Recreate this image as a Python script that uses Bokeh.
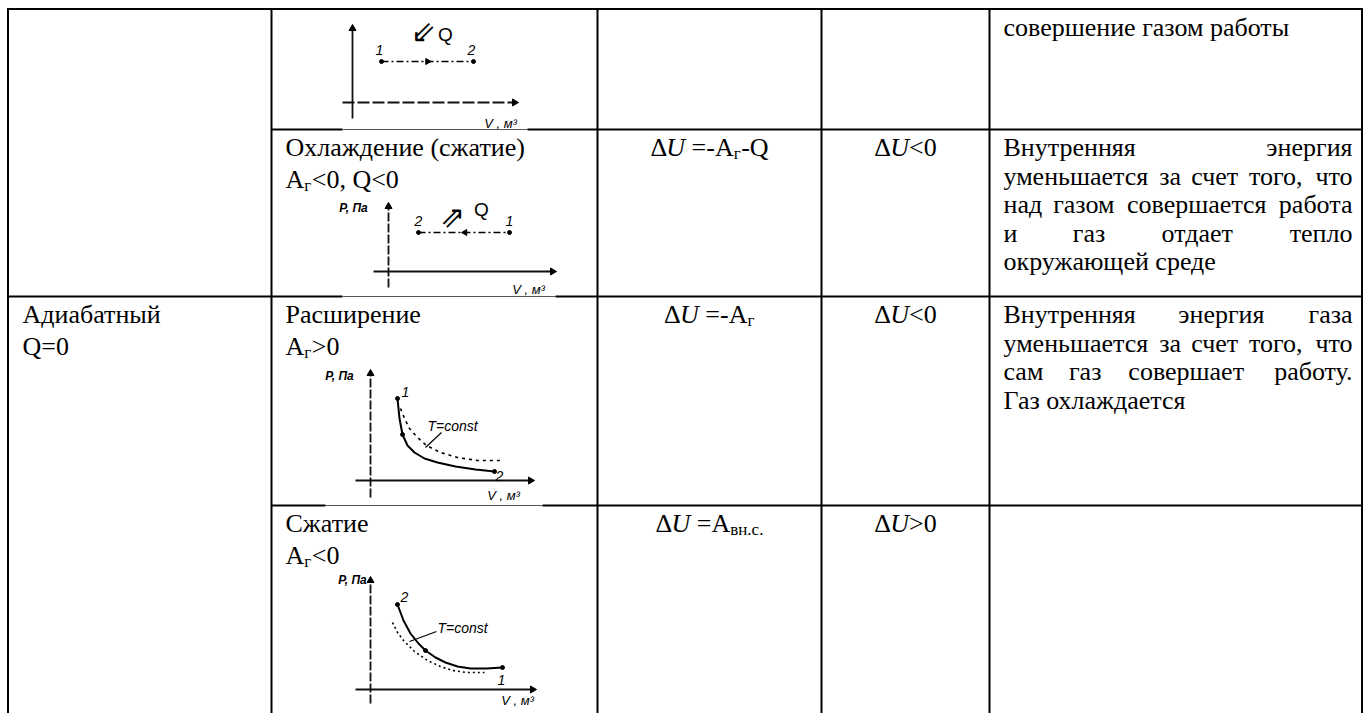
import math
from bokeh.plotting import figure
from bokeh.models import Range1d, ColumnDataSource
from bokeh.core.properties import value
from bokeh.embed import file_html
from bokeh.resources import INLINE

# ---------------- table content ----------------
col1_row34 = ["Адиабатный", "Q=0"]
col2_row2 = ["Охлаждение (сжатие)", "A_{г}<0, Q<0"]
col2_row3 = ["Расширение", "A_{г}>0"]
col2_row4 = ["Сжатие", "A_{г}<0"]
col3_formulas = ["Δ*U* =-A_{г}-Q", "Δ*U* =-A_{г}", "Δ*U* =A_{вн.с.}"]
col4_signs = ["Δ*U*<0", "Δ*U*<0", "Δ*U*>0"]
col5_row1 = ["совершение газом работы"]
col5_row1_just = [False]
col5_row2 = ["Внутренняя энергия", "уменьшается за счет того, что",
             "над газом совершается работа", "и газ отдает тепло",
             "окружающей среде"]
col5_row2_just = [True, True, True, True, False]
col5_row3 = ["Внутренняя энергия газа", "уменьшается за счет того, что",
             "сам газ совершает работу.", "Газ охлаждается"]
col5_row3_just = [True, True, True, False]

# ---------------- diagram content (small P-V sketches) ----------------
# A: isobaric expansion (top, cut)
isoA_V = [381, 473]
isoA_P = [61, 61]
# B: isobaric compression
isoB_V = [418, 509]
isoB_P = [232, 232]
# C: adiabatic expansion
adC_V = [397, 399, 402, 407, 414, 424, 437, 455, 475, 494]
adC_P = [398, 418, 434, 445, 452, 458, 462, 466, 469, 471]
isoC_V = [400, 404, 409, 416, 426, 440, 457, 477, 500]
isoC_P = [408, 418, 428, 436, 445, 452, 457, 460, 460]
# D: adiabatic compression
adD_V = [397, 403, 410, 418, 425, 435, 445, 457, 470, 486, 502]
adD_P = [604, 620, 633, 643, 650, 657, 662, 666, 668, 668, 667]
isoD_V = [392, 397, 403, 414, 427, 440, 452, 466, 484]
isoD_P = [622, 632, 640, 651, 660, 666, 670, 672, 672]

# ---------------- layout ----------------
W, H = 1370, 713
FONT = "Liberation Serif"
SANS = "Liberation Sans"
FS = 26
SUB = 17
INK = "#000000"
NB = "\u00a0"

col_x = [7.5, 271, 597, 821, 989, 1361.5]
row_y = [8.5, 129, 296, 505]

p = figure(width=W, height=H, x_range=Range1d(0, W), y_range=Range1d(H, 0),
           output_backend="svg", toolbar_location=None, x_axis_type=None, y_axis_type=None,
           min_border=0)
p.grid.visible = False
p.outline_line_color = None
p.background_fill_color = "white"
p.border_fill_color = "white"

# ---- text machinery ----
CW = {' ': 0.25, NB: 0.25, ',': 0.25, '.': 0.25, '-': 0.333, '=': 0.564, '<': 0.564, '>': 0.564,
      '(': 0.333, ')': 0.333, '0': 0.5, '1': 0.5, '2': 0.5,
      'A': 0.722, 'Q': 0.722, 'U': 0.722, 'Δ': 0.612,
      'А': 0.722, 'В': 0.667, 'Г': 0.578, 'О': 0.722, 'Р': 0.556, 'С': 0.667,
      'а': 0.444, 'б': 0.5, 'в': 0.472, 'г': 0.44, 'д': 0.5, 'е': 0.444, 'ж': 0.706,
      'з': 0.4, 'и': 0.535, 'й': 0.535, 'к': 0.48, 'л': 0.5, 'м': 0.63, 'н': 0.535,
      'о': 0.5, 'п': 0.535, 'р': 0.5, 'с': 0.444, 'т': 0.45, 'у': 0.5, 'ф': 0.65,
      'х': 0.5, 'ц': 0.535, 'ч': 0.5, 'ш': 0.78, 'щ': 0.78, 'ы': 0.67, 'ь': 0.45,
      'э': 0.44, 'ю': 0.73, 'я': 0.48}


def tw(s, size):
    return sum(CW.get(c, 0.5) for c in s) * size


groups = {}


def emit(x, y, text, size=FS, style="normal", font=FONT, align="left", color=INK):
    key = (font, size, style, align, color)
    g = groups.setdefault(key, {"x": [], "y": [], "t": []})
    g["x"].append(x)
    g["y"].append(y)
    g["t"].append(text)


def parse(s):
    s = s.replace(" ", NB)
    segs, buf, italic, i = [], "", False, 0
    while i < len(s):
        if s.startswith("_{", i):
            if buf:
                segs.append((buf, "i" if italic else "n"))
                buf = ""
            j = s.index("}", i)
            segs.append((s[i + 2:j], "s"))
            i = j + 1
        elif s[i] == "*":
            if buf:
                segs.append((buf, "i" if italic else "n"))
                buf = ""
            italic = not italic
            i += 1
        else:
            buf += s[i]
            i += 1
    if buf:
        segs.append((buf, "i" if italic else "n"))
    return segs


def seg_width(segs):
    return sum(tw(t, SUB if k == "s" else FS) for t, k in segs)


def emit_rich(x, y, s, center=False):
    segs = parse(s)
    if center:
        x = x - seg_width(segs) / 2
    for t, k in segs:
        if k == "s":
            emit(x, y + 6, t, size=SUB)
            x += tw(t, SUB)
        else:
            emit(x, y, t, style="italic" if k == "i" else "normal")
            x += tw(t, FS)


def emit_par(lines, just, left, right, y, step):
    for k, (line, j) in enumerate(zip(lines, just)):
        yy = y + k * step
        words = line.split(" ")
        if j and len(words) > 1:
            ws = [tw(w, FS) for w in words]
            gap = (right - left - sum(ws)) / (len(words) - 1)
            xx = left
            for n, w in enumerate(words):
                if n == len(words) - 1:
                    emit(right, yy, w, align="right")
                else:
                    emit(xx, yy, w)
                xx += ws[n] + gap
        else:
            emit(left, yy, line)


# ---- grid lines ----
def hline(x1, x2, y, w=2, c=INK):
    p.line([x1, x2], [y, y], line_width=w, line_color=c)


for cx in col_x:
    p.line([cx, cx], [row_y[0] - 1, H], line_width=2, line_color=INK)
hline(col_x[0] - 1, col_x[-1] + 1, row_y[0])
hline(271, 342, row_y[1]); hline(342, 527, row_y[1], 1, "#555"); hline(527, col_x[-1], row_y[1])
hline(col_x[0], 342, row_y[2]); hline(342, 555, row_y[2], 1, "#555"); hline(555, col_x[-1], row_y[2])
hline(271, 325, row_y[3]); hline(325, 542, row_y[3], 1, "#555"); hline(542, col_x[-1], row_y[3])

# ---- cell texts ----
LINE = 32
PAR = 28.5
first = [r + 18 for r in row_y]
L1, L2, L5, R5 = 22, 285, 1003, 1352
C3 = (col_x[2] + col_x[3]) / 2
C4 = (col_x[3] + col_x[4]) / 2

for k, s in enumerate(col1_row34):
    emit_rich(L1, first[2] + k * LINE, s)
for rows, r in ((col2_row2, 1), (col2_row3, 2), (col2_row4, 3)):
    for k, s in enumerate(rows):
        emit_rich(L2, first[r] + k * LINE, s)
for k, s in enumerate(col3_formulas):
    emit_rich(C3, first[k + 1], s, center=True)
for k, s in enumerate(col4_signs):
    emit_rich(C4, first[k + 1], s, center=True)
emit_par(col5_row1, col5_row1_just, L5, R5, first[0], PAR)
emit_par(col5_row2, col5_row2_just, L5, R5, first[1], PAR)
emit_par(col5_row3, col5_row3_just, L5, R5, first[2], PAR)


# ---- diagrams ----
def arrow_head(x, y, ang, size=7):
    p.scatter([x], [y], marker="triangle", size=size, angle=ang, color=INK)


def axes(x0, y_top, y_bot, y0, x_left, x_right, ydash="solid", xdash="solid"):
    p.line([x0, x0], [y_bot, y_top + 3], line_width=1.8, line_color="#111", line_dash=ydash)
    arrow_head(x0, y_top + 3, 0)
    p.line([x_left, x_right - 3], [y0, y0], line_width=1.8, line_color="#111", line_dash=xdash)
    arrow_head(x_right - 3, y0, -math.pi / 2)


def lab(x, y, t, size=13, style="italic", font=SANS, align="center"):
    emit(x, y, t, size=size, style=style, font=font, align=align)


# A
axes(352, 25, 118, 102, 342, 517, xdash="12 3")
p.line(isoA_V, isoA_P, line_width=1.6, line_color=INK, line_dash="7 3 2 3")
p.scatter(isoA_V, isoA_P, size=4, color=INK)
arrow_head((isoA_V[0] + isoA_V[1]) / 2, isoA_P[0], -math.pi / 2, 6)
lab(isoA_V[0] - 2, 49, "1", 14)
lab(isoA_V[1] - 2, 49, "2", 14)
emit(423, 31, "⇙", size=30, font="DejaVu Sans", align="center")
emit(445, 34, "Q", size=19, font=SANS, align="center")
lab(500, 123, "V , м³", 13)

# B
axes(388, 203, 287, 271, 373, 555, ydash="9 2")
lab(353, 207, "P, Па", 12, "bold italic")
p.line(isoB_V, isoB_P, line_width=1.6, line_color=INK, line_dash="7 3 2 3")
p.scatter(isoB_V, isoB_P, size=4, color=INK)
arrow_head((isoB_V[0] + isoB_V[1]) / 2 + 1, isoB_P[0], math.pi / 2, 6)
lab(isoB_V[0], 220, "2", 14)
lab(isoB_V[1], 220, "1", 14)
emit(452, 216, "⇗", size=30, font="DejaVu Sans", align="center")
emit(481, 209, "Q", size=19, font=SANS, align="center")
lab(528, 289, "V , м³", 13)

# C
axes(370, 370, 497, 480, 355, 533, ydash="9 2")
lab(339, 375, "P, Па", 12, "bold italic")
p.line(adC_V, adC_P, line_width=2, line_color=INK)
p.scatter([adC_V[0], adC_V[2], adC_V[-1]], [adC_P[0], adC_P[2], adC_P[-1]], size=4, color=INK)
p.line(isoC_V, isoC_P, line_width=1.6, line_color=INK, line_dash="3 4")
lab(405, 391, "1", 14)
lab(499, 475, "2", 14)
lab(452, 425, "T=const", 14)
p.line([441, 425], [432, 447], line_width=1.2, line_color=INK)
lab(503, 495, "V , м³", 13)

# D
axes(370, 577, 703, 689, 355, 535, ydash="9 2")
lab(352, 579, "P, Па", 12, "bold italic")
p.line(adD_V, adD_P, line_width=2, line_color=INK)
p.scatter([adD_V[0], adD_V[4], adD_V[-1]], [adD_P[0], adD_P[4], adD_P[-1]], size=4, color=INK)
p.line(isoD_V, isoD_P, line_width=1.6, line_color=INK, line_dash="2 3")
lab(404, 596, "2", 14)
lab(501, 679, "1", 14)
lab(462, 627, "T=const", 14)
p.line([436, 409], [631, 641], line_width=1.2, line_color=INK)
lab(517, 700, "V , м³", 13)

# ---- render texts ----
for (font, size, style, align, color), g in groups.items():
    src = ColumnDataSource(dict(x=g["x"], y=g["y"], t=g["t"]))
    p.text(x="x", y="y", text="t", source=src, text_font=value(font),
           text_font_size=f"{size}px", text_font_style=style, text_align=align,
           text_baseline="middle", text_color=color)

with open("out.html", "w", encoding="utf-8") as f:
    f.write(file_html(p, INLINE))
